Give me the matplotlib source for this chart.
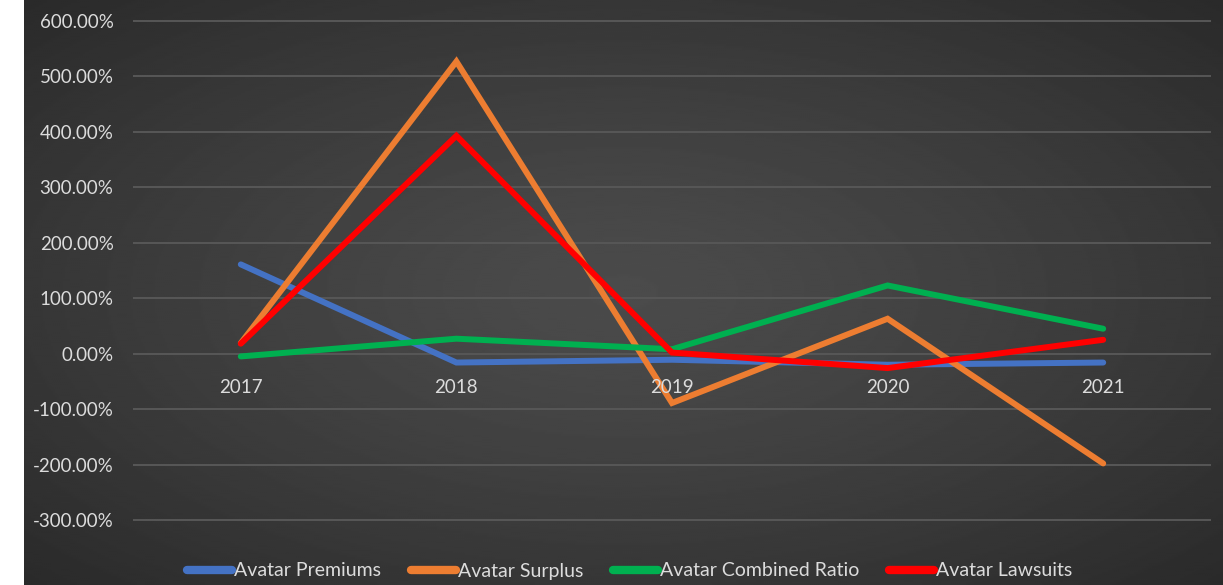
import numpy as np
import matplotlib.pyplot as plt
from matplotlib.transforms import offset_copy

years = ["2017", "2018", "2019", "2020", "2021"]
premiums = [161, -16, -11, -20, -16]
surplus = [19, 527, -89, 63, -198]
combined_ratio = [-5, 27, 8, 123, 45]
lawsuits = [18, 393, 2, -26, 25]

series = [
    ("Avatar Premiums", premiums, "#4472C4"),
    ("Avatar Surplus", surplus, "#ED7D31"),
    ("Avatar Combined Ratio", combined_ratio, "#00B050"),
    ("Avatar Lawsuits", lawsuits, "#FF0000"),
]
yticks = [-300, -200, -100, 0, 100, 200, 300, 400, 500, 600]

W, H = 1223, 585
fig = plt.figure(figsize=(W / 100, H / 100), dpi=100, facecolor="white")

# dark radial gradient background
bg = fig.add_axes([24 / W, 0, 1 - 24 / W, 1])
gx, gy = np.meshgrid(np.linspace(-1, 1, 600), np.linspace(-1, 1, 300))
r = np.sqrt(gx**2 + gy**2) / np.sqrt(2)
bg.imshow(0.295 - 0.13 * r**1.3, cmap="gray", vmin=0, vmax=1, aspect="auto",
          extent=[0, 1, 0, 1], interpolation="bilinear")
bg.axis("off")

# main plot axes, in pixel space
ylo, yhi = -310, 610
ppu = 0.554
top_px = 21 - (yhi - 600) * ppu
bot_px = 520 + (-300 - ylo) * ppu
x0, x1 = 133, 1211
ax = fig.add_axes([x0 / W, 1 - bot_px / H, (x1 - x0) / W, (bot_px - top_px) / H])
ax.set_facecolor("none")

font = ["Lato", "DejaVu Sans"]
txt = "#dcdcdc"

x = np.arange(len(years))
for name, vals, col in series:
    ax.plot(x, vals, color=col, lw=4.3, solid_capstyle="round",
            solid_joinstyle="miter", label=name, zorder=3)

ax.set_xlim(-0.5, len(years) - 0.5)
ax.set_ylim(ylo, yhi)
ax.set_yticks(yticks)
ax.set_yticklabels([f"{v:.2f}%" for v in yticks], color=txt, fontsize=13.5,
                   family=font)
ax.tick_params(axis="y", length=0, pad=14)
ax.set_xticks([])
ax.grid(axis="y", color="#575757", lw=1.4, zorder=1)
for s in ax.spines.values():
    s.set_visible(False)

lab_tr = offset_copy(ax.transData, fig=fig, x=0, y=-25, units="dots")
for i, yr in enumerate(years):
    ax.text(i, 0, yr, transform=lab_tr, ha="center", va="top", color=txt,
            fontsize=13.5, family=font)

leg = fig.legend(loc="center", bbox_to_anchor=(0.515, 1 - 571 / H), ncol=4,
                 frameon=False, handlelength=2.3, handletextpad=0.1,
                 columnspacing=1.55, prop={"family": font, "size": 14})
for t in leg.get_texts():
    t.set_color(txt)
for h in leg.get_lines():
    h.set_linewidth(6)
    h.set_solid_capstyle("round")

fig.savefig("out.png", dpi=100, facecolor="white")
